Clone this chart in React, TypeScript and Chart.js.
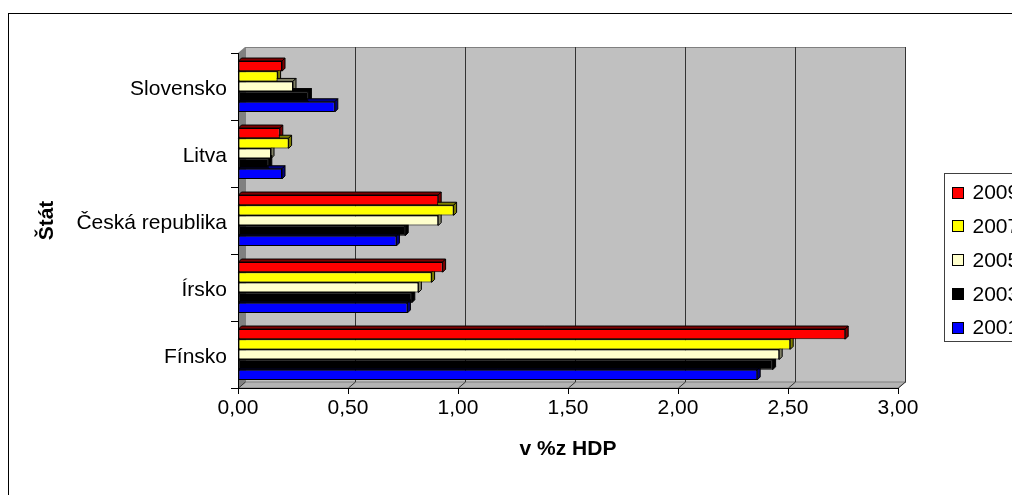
import React, { useEffect, useRef } from "react";
import { Chart, registerables } from "chart.js";

Chart.register(...registerables);

const categories = ["Slovensko", "Litva", "Česká republika", "Írsko", "Fínsko"];
const seriesNames = ["2009", "2007", "2005", "2003", "2001"];
const values2009 = [0.2, 0.19, 0.91, 0.93, 2.76];
const values2007 = [0.18, 0.23, 0.98, 0.88, 2.51];
const values2005 = [0.25, 0.15, 0.91, 0.82, 2.46];
const values2003 = [0.32, 0.14, 0.76, 0.79, 2.43];
const values2001 = [0.44, 0.2, 0.72, 0.77, 2.36];
const xTitle = "v %z HDP";
const yTitle = "Štát";

const faceColors = ["#FF0000", "#FFFF00", "#FFFFCC", "#000000", "#0000FF"];
const sideColors = ["#800000", "#808000", "#808066", "#000000", "#000080"];

const FONT = "'Liberation Sans', Arial, sans-serif";
const DX = 7;
const DY = 6;
const BD = 3;

const wallsPlugin = {
  id: "walls",
  beforeDraw(chart: any) {
    const ctx = chart.ctx;
    const { left, right, top, bottom } = chart.chartArea;
    ctx.save();
    ctx.fillStyle = "#FFFFFF";
    ctx.fillRect(0, 0, chart.width, chart.height);
    ctx.strokeStyle = "#000000";
    ctx.lineWidth = 1;
    ctx.strokeRect(0.5, 5.5, chart.width + 50, chart.height + 50);
    // back wall
    ctx.fillStyle = "#C0C0C0";
    ctx.fillRect(left + DX, top - DY, right - left, bottom - top);
    ctx.strokeStyle = "#808080";
    ctx.strokeRect(left + DX + 0.5, top - DY + 0.5, right - left, bottom - top);
    // left wall
    ctx.fillStyle = "#808080";
    ctx.beginPath();
    ctx.moveTo(left, top);
    ctx.lineTo(left + DX, top - DY);
    ctx.lineTo(left + DX, bottom - DY);
    ctx.lineTo(left, bottom);
    ctx.closePath();
    ctx.fill();
    // floor
    ctx.fillStyle = "#B4B4B4";
    ctx.beginPath();
    ctx.moveTo(left, bottom);
    ctx.lineTo(left + DX, bottom - DY);
    ctx.lineTo(right + DX, bottom - DY);
    ctx.lineTo(right, bottom);
    ctx.closePath();
    ctx.fill();
    ctx.strokeStyle = "#808080";
    ctx.stroke();
    // grid lines on back wall + floor diagonals
    const xs = chart.scales.x;
    ctx.strokeStyle = "#333333";
    ctx.lineWidth = 1;
    xs.ticks.forEach((t: any) => {
      const px = Math.round(xs.getPixelForValue(t.value)) + 0.5;
      if (t.value > 0) {
        ctx.beginPath();
        ctx.moveTo(px + DX, top - DY);
        ctx.lineTo(px + DX, bottom - DY);
        ctx.stroke();
      }
      ctx.beginPath();
      ctx.moveTo(px, bottom);
      ctx.lineTo(px + DX, bottom - DY);
      ctx.stroke();
    });
    ctx.strokeStyle = "#000000";
    ctx.beginPath();
    ctx.moveTo(left, bottom + 0.5);
    ctx.lineTo(right, bottom + 0.5);
    ctx.stroke();
    ctx.restore();
  },
  beforeDatasetsDraw(chart: any) {
    const ctx = chart.ctx;
    ctx.save();
    ctx.lineWidth = 1;
    ctx.strokeStyle = "#000000";
    chart.data.datasets.forEach((ds: any, di: number) => {
      const meta = chart.getDatasetMeta(di);
      meta.data.forEach((bar: any) => {
        const x0 = bar.base;
        const x1 = bar.x;
        const y0 = bar.y - bar.height / 2;
        const y1 = bar.y + bar.height / 2;
        ctx.fillStyle = sideColors[di];
        ctx.beginPath();
        ctx.moveTo(x0, y0);
        ctx.lineTo(x0 + BD, y0 - BD);
        ctx.lineTo(x1 + BD, y0 - BD);
        ctx.lineTo(x1, y0);
        ctx.closePath();
        ctx.fill();
        ctx.stroke();
        ctx.beginPath();
        ctx.moveTo(x1, y0);
        ctx.lineTo(x1 + BD, y0 - BD);
        ctx.lineTo(x1 + BD, y1 - BD);
        ctx.lineTo(x1, y1);
        ctx.closePath();
        ctx.fill();
        ctx.stroke();
      });
    });
    ctx.restore();
  },
  afterDraw(chart: any) {
    const ctx = chart.ctx;
    ctx.save();
    const lx = 936.5;
    const ly = 165.5;
    ctx.fillStyle = "#FFFFFF";
    ctx.fillRect(lx, ly, 200, 168);
    ctx.strokeStyle = "#404040";
    ctx.lineWidth = 1;
    ctx.strokeRect(lx, ly, 200, 168);
    ctx.font = `21px ${FONT}`;
    ctx.textBaseline = "middle";
    ctx.textAlign = "left";
    chart.data.datasets.forEach((ds: any, i: number) => {
      const cy = 184.5 + i * 33.8;
      const sy = Math.round(cy - 6);
      ctx.fillStyle = ds.backgroundColor;
      ctx.fillRect(944, sy, 12, 12);
      ctx.strokeStyle = "#000000";
      ctx.strokeRect(944.5, sy + 0.5, 11, 11);
      ctx.fillStyle = "#000000";
      ctx.fillText(ds.label, 964.5, cy + 1);
    });
    ctx.restore();
  },
};

export default function App() {
  const ref = useRef<HTMLCanvasElement>(null);
  useEffect(() => {
    document.documentElement.style.overflow = "hidden";
    const allValues = [values2009, values2007, values2005, values2003, values2001];
    const chart = new Chart(ref.current as HTMLCanvasElement, {
      type: "bar",
      data: {
        labels: categories,
        datasets: seriesNames.map((name, i) => ({
          label: name,
          data: allValues[i],
          backgroundColor: faceColors[i],
          borderColor: "#000000",
          borderWidth: 1,
          borderSkipped: false,
          categoryPercentage: 0.76,
          barPercentage: 1.0,
        })),
      },
      options: {
        indexAxis: "y",
        responsive: false,
        devicePixelRatio: 1,
        animation: false,
        layout: { padding: { left: 23, right: 170, top: 45, bottom: 62 } },
        plugins: {
          legend: { display: false },
          tooltip: { enabled: false },
        },
        scales: {
          x: {
            min: 0,
            max: 3,
            ticks: {
              stepSize: 0.5,
              color: "#000000",
              font: { family: FONT, size: 21 },
              padding: 2,
              callback: (v: any) => Number(v).toFixed(2).replace(".", ","),
            },
            grid: {
              drawOnChartArea: false,
              drawTicks: true,
              tickLength: 6,
              color: "#000000",
            },
            border: { display: false },
            title: {
              display: true,
              text: xTitle,
              color: "#000000",
              font: { family: FONT, size: 21, weight: "bold" },
              padding: 4,
            },
            afterFit: (s: any) => {
              s.height = 78;
            },
          },
          y: {
            ticks: {
              color: "#000000",
              font: { family: FONT, size: 21 },
              padding: 4,
              labelOffset: 3,
            },
            grid: {
              drawOnChartArea: false,
              drawTicks: true,
              tickLength: 7,
              color: "#000000",
            },
            border: { display: true, color: "#000000" },
            title: {
              display: true,
              text: yTitle,
              color: "#000000",
              font: { family: FONT, size: 21, weight: "bold" },
              padding: 4,
            },
            afterFit: (s: any) => {
              s.width = 207;
            },
          },
        },
      },
      plugins: [wallsPlugin],
    } as any);
    return () => chart.destroy();
  }, []);
  return (
    <div style={{ width: 1012, height: 487, overflow: "hidden", position: "relative" }}>
      <canvas ref={ref} width={1060} height={520} style={{ display: "block", width: 1060, height: 520 }} />
    </div>
  );
}
